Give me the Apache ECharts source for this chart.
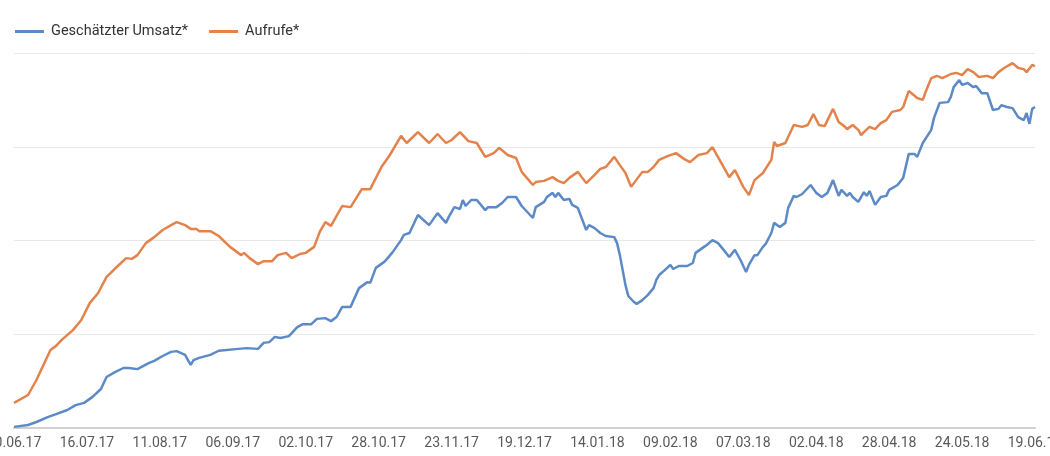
<!DOCTYPE html>
<html>
<head>
<meta charset="utf-8">
<script src="https://cdn.jsdelivr.net/npm/echarts@6/dist/echarts.min.js"></script>
<style>
  html, body { margin: 0; padding: 0; background: #fff; }
  #chart { width: 1050px; height: 456px; }
</style>
</head>
<body>
<div id="chart"></div>
<script>
// days since 20.06.17, ticks every 26 days
const startDate = new Date(2017, 5, 20)
const tickStep = 26
const lastDay = 364

const umsatzDays = [0, 5, 8, 12, 15, 19, 22, 25, 28, 31, 33, 36, 39, 41, 44, 46, 48, 50, 53, 56, 58, 61, 63, 64, 66, 70, 73, 80, 83, 87, 89, 91, 93, 95, 98, 101, 103, 106, 108, 111, 113, 115, 117, 120, 123, 126, 127, 129, 132, 133, 135, 138, 139, 141, 144, 148, 151, 154, 155, 157, 159, 160, 161, 163, 165, 168, 169, 172, 174, 176, 179, 181, 183, 185, 186, 189, 190, 192, 193, 194, 196, 198, 199, 201, 204, 205, 207, 209, 211, 214, 215, 216, 217, 218, 219, 221, 222, 224, 226, 228, 229, 230, 232, 234, 235, 237, 240, 242, 243, 246, 247, 249, 251, 253, 255, 257, 259, 261, 262, 264, 265, 267, 268, 270, 271, 273, 275, 276, 278, 279, 281, 284, 286, 288, 290, 292, 294, 295, 297, 298, 299, 301, 303, 304, 305, 307, 309, 311, 312, 315, 317, 319, 321, 322, 324, 327, 328, 330, 333, 334, 335, 337, 338, 340, 342, 343, 345, 347, 349, 351, 352, 354, 356, 358, 360, 361, 362, 363, 364]
const umsatzValues = [0.3, 0.8, 1.6, 2.9, 3.7, 4.8, 6.1, 6.7, 8.3, 10.4, 13.6, 14.9, 16.0, 16.0, 15.7, 16.5, 17.3, 17.9, 19.2, 20.3, 20.5, 19.5, 16.8, 18.1, 18.7, 19.5, 20.6, 21.1, 21.3, 21.1, 22.7, 22.9, 24.3, 24.0, 24.5, 26.9, 27.7, 27.7, 29.1, 29.3, 28.5, 29.6, 32.3, 32.3, 37.3, 38.9, 38.7, 42.7, 44.3, 45.1, 46.9, 50.1, 51.5, 52.0, 56.8, 54.1, 57.3, 54.7, 56.3, 58.9, 58.4, 60.8, 59.2, 60.8, 60.8, 58.1, 58.9, 58.9, 60.0, 61.6, 61.6, 59.2, 57.6, 56.0, 58.9, 60.3, 61.6, 62.7, 61.6, 62.7, 60.8, 61.1, 59.5, 58.7, 52.8, 54.1, 53.3, 52.0, 51.2, 50.9, 49.3, 46.1, 42.1, 38.1, 35.2, 33.6, 33.1, 34.1, 35.5, 37.3, 39.5, 40.8, 42.1, 43.5, 42.4, 43.2, 43.2, 44.0, 46.7, 48.3, 48.8, 50.1, 49.3, 47.5, 45.6, 47.5, 44.8, 41.6, 43.5, 46.1, 46.1, 48.3, 49.1, 52.0, 54.7, 53.6, 54.7, 58.7, 61.9, 61.6, 62.4, 64.8, 62.7, 61.6, 62.7, 66.1, 61.9, 63.5, 61.9, 62.7, 61.6, 60.3, 62.9, 61.9, 63.2, 59.5, 61.6, 61.9, 63.5, 64.8, 66.7, 73.1, 73.1, 72.3, 76.0, 79.5, 82.7, 86.7, 86.9, 88.3, 90.9, 92.8, 91.5, 92.0, 90.9, 91.2, 89.3, 89.3, 84.8, 85.1, 86.1, 85.6, 85.3, 82.9, 82.1, 84.0, 81.1, 85.1, 85.6]

const aufrufeDays = [0, 5, 8, 10, 13, 15, 17, 21, 24, 27, 30, 33, 37, 40, 42, 44, 47, 50, 53, 56, 58, 61, 63, 65, 66, 70, 73, 77, 81, 82, 84, 87, 89, 92, 94, 97, 99, 102, 104, 107, 109, 111, 113, 117, 120, 124, 127, 131, 134, 138, 140, 144, 148, 151, 154, 156, 159, 162, 165, 168, 171, 173, 176, 179, 181, 185, 186, 189, 192, 194, 196, 198, 201, 204, 207, 209, 211, 214, 216, 218, 220, 224, 226, 228, 230, 233, 236, 239, 241, 244, 247, 249, 252, 255, 257, 260, 262, 264, 267, 270, 271, 272, 275, 278, 281, 283, 285, 287, 289, 292, 294, 296, 297, 299, 301, 302, 303, 305, 307, 309, 311, 313, 316, 317, 319, 322, 324, 325, 327, 329, 331, 334, 336, 338, 340, 342, 344, 347, 349, 351, 353, 356, 358, 360, 361, 363, 364]
const aufrufeValues = [6.7, 8.8, 12.8, 16.0, 20.8, 21.9, 23.5, 26.1, 28.8, 33.3, 36.0, 40.3, 43.2, 45.3, 45.1, 46.1, 49.3, 50.9, 52.8, 54.1, 54.9, 54.1, 53.1, 53.1, 52.5, 52.5, 51.2, 48.3, 46.1, 46.7, 45.3, 43.7, 44.5, 44.5, 46.1, 46.7, 45.3, 46.4, 46.7, 48.3, 52.3, 54.9, 53.9, 59.2, 58.9, 63.7, 63.7, 69.6, 72.8, 77.9, 76.0, 78.9, 76.0, 78.4, 76.0, 76.8, 78.9, 76.5, 76.0, 72.3, 73.3, 74.7, 72.8, 72.0, 68.3, 64.8, 65.6, 65.9, 66.9, 65.9, 65.3, 66.7, 68.3, 65.3, 67.5, 69.1, 69.6, 72.3, 70.1, 68.0, 64.3, 68.3, 68.3, 69.6, 71.5, 72.5, 73.3, 71.7, 70.9, 72.8, 73.3, 74.9, 70.9, 66.9, 68.8, 64.3, 62.1, 66.1, 68.0, 71.5, 76.3, 75.2, 76.0, 80.8, 80.3, 80.8, 83.7, 80.8, 80.5, 85.1, 81.6, 80.5, 79.7, 80.8, 79.5, 78.1, 78.9, 80.3, 79.7, 81.3, 82.1, 84.3, 84.8, 85.6, 89.9, 88.0, 87.5, 89.6, 93.3, 93.9, 93.3, 94.4, 94.7, 94.1, 95.7, 94.9, 93.6, 93.9, 93.3, 94.9, 96.0, 97.3, 96.0, 95.7, 94.9, 96.8, 96.5]

function pad(n) {
  return n < 10 ? '0' + n : '' + n
}

function dayLabel(v) {
  const d = new Date(startDate.getTime())
  d.setDate(d.getDate() + Math.round(v))
  return pad(d.getDate()) + '.' + pad(d.getMonth() + 1) + '.' + pad(d.getFullYear() % 100)
}

const chart = echarts.init(document.getElementById('chart'))

chart.setOption({
  animation: false,
  textStyle: { fontFamily: 'Roboto, sans-serif' },
  legend: {
    left: 10,
    top: 19,
    icon: 'rect',
    itemWidth: 29,
    itemHeight: 3,
    itemGap: 21,
    textStyle: { fontSize: 14.5, color: '#333', fontFamily: 'Roboto', padding: [0, 0, 0, 2] },
    data: ['Geschätzter Umsatz*', 'Aufrufe*'],
  },
  grid: {
    left: 14,
    right: 15,
    top: 53,
    bottom: 28,
    containLabel: false,
    outerBoundsMode: 'none',
  },
  xAxis: {
    type: 'value',
    min: 0,
    max: lastDay,
    interval: tickStep,
    splitLine: { show: false },
    axisTick: { show: false },
    axisLine: { show: true, lineStyle: { color: '#d0d0d0', width: 2 } },
    axisLabel: {
      formatter: dayLabel,
      fontSize: 14,
      color: '#595959',
      margin: 8,
      showMinLabel: true,
      showMaxLabel: true,
      hideOverlap: false,
    },
  },
  yAxis: {
    type: 'value',
    min: 0,
    max: 100,
    interval: 25,
    axisLabel: { show: false },
    axisTick: { show: false },
    axisLine: { show: false },
    splitLine: { lineStyle: { color: '#e8e8e8', width: 1 } },
  },
  series: [
    {
      name: 'Geschätzter Umsatz*',
      type: 'line',
      data: umsatzDays.map((d, i) => [d, umsatzValues[i]]),
      showSymbol: false,
      symbol: 'none',
      lineStyle: { width: 2.5, color: '#5b8ac6' },
      itemStyle: { color: '#5b8ac6' },
      z: 3,
    },
    {
      name: 'Aufrufe*',
      type: 'line',
      data: aufrufeDays.map((d, i) => [d, aufrufeValues[i]]),
      showSymbol: false,
      symbol: 'none',
      lineStyle: { width: 2.5, color: '#e3834b' },
      itemStyle: { color: '#e3834b' },
      z: 2,
    },
  ],
})
</script>
</body>
</html>
